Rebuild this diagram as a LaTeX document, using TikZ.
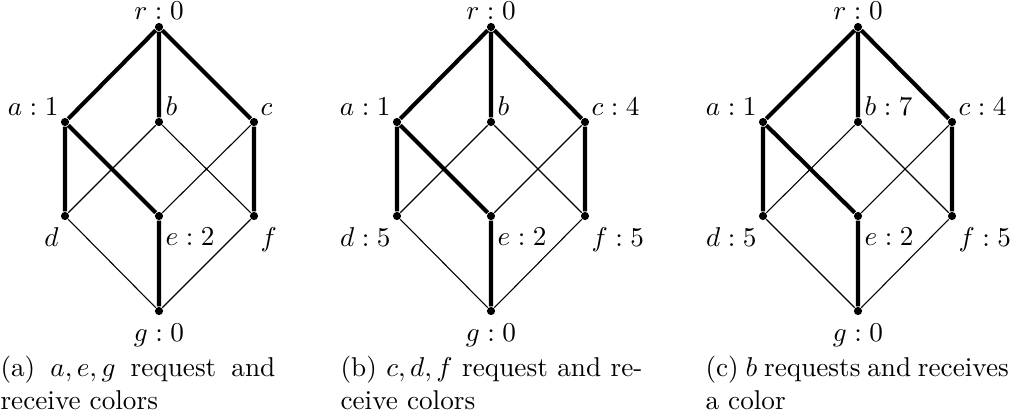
\documentclass[tikz,border=0pt]{standalone}
\tikzset{
  vertex/.style={circle,fill=black,draw=none,inner sep=0pt,minimum size=3pt},
  tree/.style={line width=1.5pt},
  cross/.style={line width=0.4pt},
  every label/.style={inner sep=1pt},
  low/.style={yshift=-2pt},
  subcap/.style={anchor=north west,inner sep=0pt,align=justify}
}
\begin{document}
\begin{tikzpicture}[x=0.3676pt,y=-0.3676pt]
  \useasboundingbox (0,0) rectangle (1019,416);
  % (a) a, e, g
  \node[vertex,label=above:$r:0$] (ra) at (159,27) {};
  \node[vertex,label=above left:$a:1$] (aa) at (65,122) {};
  \node[vertex,label=above right:$b$] (ba) at (159,122) {};
  \node[vertex,label=above right:$c$] (ca) at (254,122) {};
  \node[vertex,label={[low]below left:$d$}] (da) at (65,216) {};
  \node[vertex,label={[low]below right:$e:2$}] (ea) at (159,216) {};
  \node[vertex,label={[low]below right:$f$}] (fa) at (254,216) {};
  \node[vertex,label={[low]below:$g:0$}] (ga) at (159,311) {};
  \draw[cross] (ba) -- (da) (ba) -- (fa) (ca) -- (ea) (da) -- (ga) (fa) -- (ga);
  \draw[tree] (aa) -- (ra) -- (ca) (ra) -- (ba) (aa) -- (da) (aa) -- (ea) -- (ga) (ca) -- (fa);
  \node[subcap,text width=101pt] (capa) at (0,356) {(a) $a,e,g$ request and receive colors};
  % (b) c, d, f
  \node[vertex,label=above:$r:0$] (rb) at (491,27) {};
  \node[vertex,label=above left:$a:1$] (ab) at (397,122) {};
  \node[vertex,label=above right:$b$] (bb) at (491,122) {};
  \node[vertex,label=above right:$c:4$] (cb) at (585,122) {};
  \node[vertex,label={[low]below left:$d:5$}] (db) at (397,216) {};
  \node[vertex,label={[low]below right:$e:2$}] (eb) at (491,216) {};
  \node[vertex,label={[low]below right:$f:5$}] (fb) at (585,216) {};
  \node[vertex,label={[low]below:$g:0$}] (gb) at (491,311) {};
  \draw[cross] (bb) -- (db) (bb) -- (fb) (cb) -- (eb) (db) -- (gb) (fb) -- (gb);
  \draw[tree] (ab) -- (rb) -- (cb) (rb) -- (bb) (ab) -- (db) (ab) -- (eb) -- (gb) (cb) -- (fb);
  \node[subcap,text width=111pt] (capb) at (340,356) {(b) $c,d,f$ request and receive colors};
  % (c) b
  \node[vertex,label=above:$r:0$] (rc) at (858,27) {};
  \node[vertex,label=above left:$a:1$] (ac) at (763,122) {};
  \node[vertex,label=above right:$b:7$] (bc) at (858,122) {};
  \node[vertex,label=above right:$c:4$] (cc) at (952,122) {};
  \node[vertex,label={[low]below left:$d:5$}] (dc) at (763,216) {};
  \node[vertex,label={[low]below right:$e:2$}] (ec) at (858,216) {};
  \node[vertex,label={[low]below right:$f:5$}] (fc) at (952,216) {};
  \node[vertex,label={[low]below:$g:0$}] (gc) at (858,311) {};
  \draw[cross] (bc) -- (dc) (bc) -- (fc) (cc) -- (ec) (dc) -- (gc) (fc) -- (gc);
  \draw[tree] (ac) -- (rc) -- (cc) (rc) -- (bc) (ac) -- (dc) (ac) -- (ec) -- (gc) (cc) -- (fc);
  \node[subcap,text width=111.5pt] (capc) at (705,356) {(c) $b$ requests and receives a color};
\end{tikzpicture}
\end{document}
